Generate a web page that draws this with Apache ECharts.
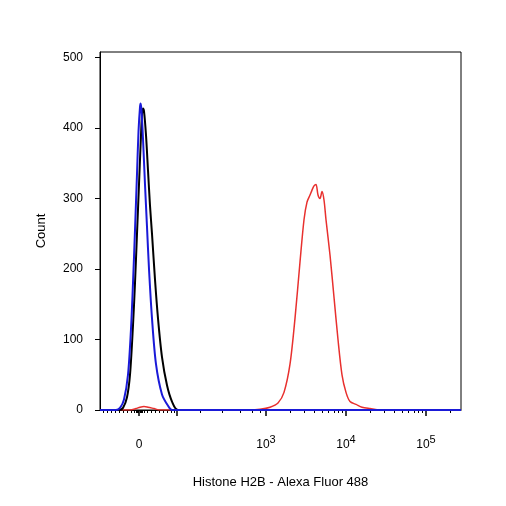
<!DOCTYPE html>
<html><head><meta charset="utf-8">
<script src="https://cdn.jsdelivr.net/npm/echarts@6/dist/echarts.min.js"></script>
<style>html,body{margin:0;padding:0;background:#fff}#c{width:506px;height:506px}</style>
</head><body><div id="c"></div>
<script>
// x in display channel units (biexponential scale, 0..361)
const blueX = [0,16,20,24,28,31,33,35,37,38.5,40,40.7,41.5,43,45,47,49,52,56,62,68,72,361];
const blueY = [0,0,3,15,50,115,180,255,335,395,430,435,425,385,320,260,200,130,65,22,6,0,0];
const blackX = [0,19,23,27,30,33,35,37,39,41,42,43,44,46,48,50,52,55,58,62,67,72,78,361];
const blackY = [0,0,3,18,50,120,180,250,320,390,420,428,424,390,340,290,250,185,130,75,35,12,0,0];
const redX = [0,30,36,40,44,48,54,60,150,160,170,178,184,190,195,200,204,207,210,212,214,216,218,220,222,224,226,230,234,238,242,246,250,256,262,270,280,361];
const redY = [0,0,2,4,5,4,2,0,0,1,4,10,25,65,130,210,270,295,305,312,318,320,305,300,310,298,270,220,160,100,50,25,12,8,4,2,0,0];
const majorTicks = [39,77,166,246,326];
const labelTicks = [39,166,246,326];
const labelText = ['{b|0}','{b|10}{s|3}','{b|10}{s|4}','{b|10}{s|5}'];
const minorTicks = [3,7,11,15,19,23,27,31,34,36,37,38,40,41,42,44,47,51,55,59,63,67,71,74,
  100,122,140,152,160,190,204,214,222,228,234,238,242,270,284,294,302,308,314,318,322,350,364,374,382,388,394,398,402];
const yTicks = [0,100,200,300,400,500];

const mk = (xs, ys) => xs.map((x,i)=>[x,ys[i]]);
const chart = echarts.init(document.getElementById('c'));
const font = 'Liberation Sans, Arial, sans-serif';
chart.setOption({
  animation:false,
  grid:{left:100,right:45,top:52,bottom:96,show:true,borderColor:'#000',borderWidth:1},
  xAxis:[{
    type:'value',min:0,max:361,
    name:'Histone H2B - Alexa Fluor 488',nameLocation:'middle',nameGap:66,
    nameTextStyle:{fontSize:13,color:'#000',fontFamily:font},
    axisLine:{show:true,lineStyle:{color:'#000'}},splitLine:{show:false},
    axisTick:{show:true,customValues:majorTicks,length:6,lineStyle:{color:'#000',width:1.5}},
    axisLabel:{customValues:labelTicks,margin:24,color:'#000',fontFamily:font,
      formatter:(v)=>labelText[labelTicks.indexOf(v)],
      rich:{b:{fontSize:12,lineHeight:17,verticalAlign:'bottom',color:'#000',fontFamily:font},
            s:{fontSize:11,lineHeight:17,verticalAlign:'top',color:'#000',fontFamily:font}}}
  },{
    type:'value',min:0,max:361,position:'bottom',gridIndex:0,
    axisLine:{show:false},splitLine:{show:false},axisLabel:{show:false},
    axisTick:{show:true,customValues:minorTicks,length:3,lineStyle:{color:'#000'}}
  }],
  yAxis:{type:'value',min:0,max:508,
    name:'Count',nameLocation:'middle',nameGap:52,nameRotate:90,
    nameTextStyle:{fontSize:13,color:'#000',fontFamily:font},
    axisLine:{show:true,lineStyle:{color:'#000'}},splitLine:{show:false},
    axisTick:{show:true,customValues:yTicks,length:5,lineStyle:{color:'#000'}},
    axisLabel:{customValues:yTicks,color:'#000',fontSize:12,fontFamily:font,margin:17}},
  series:[
    {type:'line',data:mk(redX,redY),smooth:0.3,showSymbol:false,lineStyle:{color:'#e8302e',width:1.5},z:2},
    {type:'line',data:mk(blackX,blackY),smooth:0.3,showSymbol:false,lineStyle:{color:'#000',width:2},z:3},
    {type:'line',data:mk(blueX,blueY),smooth:0.3,showSymbol:false,lineStyle:{color:'#1a1ad8',width:2},z:4}
  ]
});
</script></body></html>
